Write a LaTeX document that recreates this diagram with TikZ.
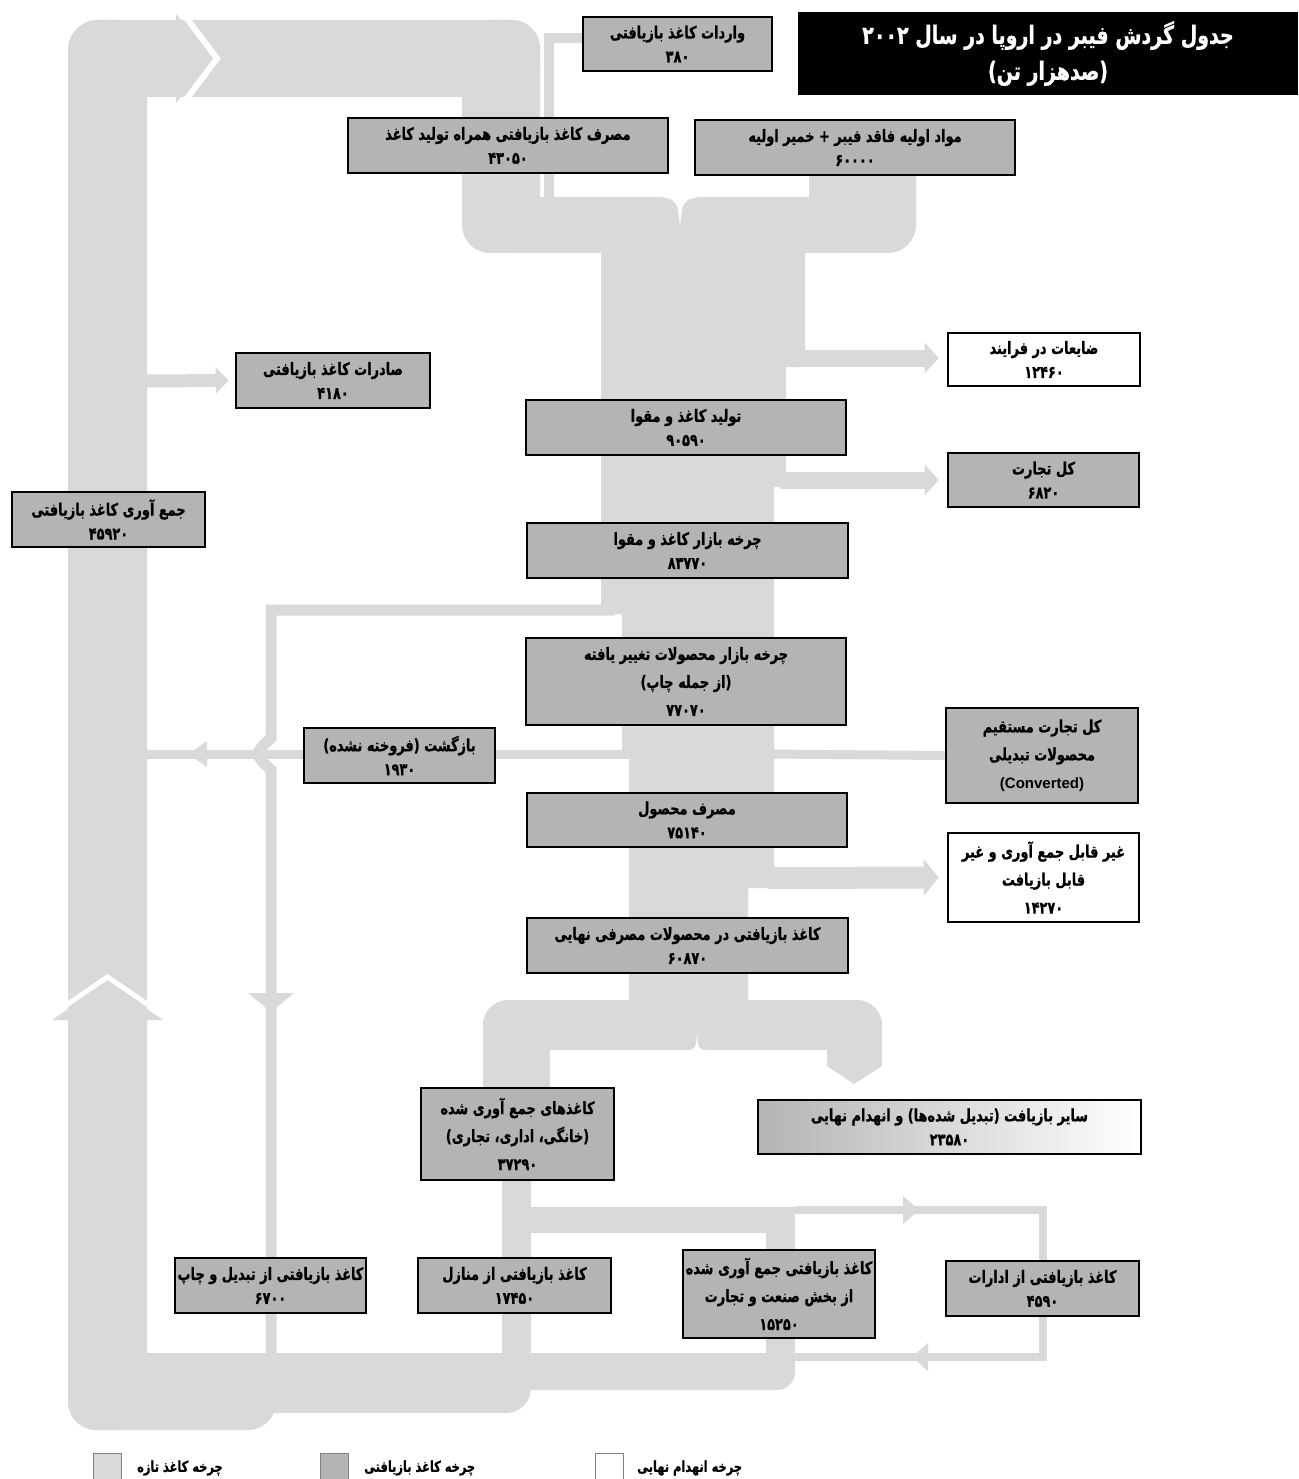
\documentclass[tikz,border=0pt]{standalone}
\usepackage{fontspec}
\usetikzlibrary{arrows.meta}
\TeXXeTstate=1
\newfontfamily\pfont[Script=Arabic,FakeStretch=0.76,BoldFeatures={FakeBold=0.8}]{DejaVu Sans}
\newfontfamily\lfont{Liberation Sans}
\newcommand{\fatxt}[1]{\beginR #1\endR}
\definecolor{flow}{RGB}{217,217,217}
\definecolor{boxg}{RGB}{180,180,180}
\pgfdeclarelayer{bg}
\pgfsetlayers{bg,main}
\tikzset{
  box/.style={draw=black, line width=2.6pt, fill=boxg, inner sep=0pt, align=center,
    font=\pfont\bfseries\fontsize{17}{24}\selectfont},
  wbox/.style={box, fill=white},
  tri/.style={font=\pfont\bfseries\fontsize{17}{28}\selectfont},
  fl/.style={fill=flow},
  fline/.style={draw=flow, line cap=butt, line join=miter},
  farrow/.style={draw=flow, line cap=butt, -{Triangle[length=14pt,width=30pt]}},
  lgbox/.style={draw=gray, line width=1pt, minimum width=28pt, minimum height=28pt, inner sep=0pt},
  lgtxt/.style={anchor=west, inner sep=0pt, font=\pfont\bfseries\fontsize{15}{17}\selectfont}
}
\begin{document}
\begin{tikzpicture}[x=1pt,y=-1pt]
\useasboundingbox (0,0) rectangle (1298,1479);

% ---------- nodes ----------
\node[fill=black, minimum width=500pt, minimum height=83pt, inner sep=0pt, text=white, align=center,
  font=\pfont\bfseries\fontsize{25}{36}\selectfont] (title) at (1048,53.5)
  {\fatxt{جدول گردش فیبر در اروپا در سال ۲۰۰۲}\\\fatxt{(صدهزار تن)}};

\node[box, minimum width=189pt, minimum height=54pt] (imp) at (677.5,44)
  {\fatxt{واردات کاغذ بازیافتی}\\۳۸۰};
\node[box, minimum width=320pt, minimum height=55pt] (cons) at (508,145.5)
  {\fatxt{مصرف کاغذ بازیافتی همراه تولید کاغذ}\\۴۳۰۵۰};
\node[box, minimum width=320pt, minimum height=55pt] (raw) at (855,147.5)
  {\fatxt{مواد اولیه فاقد فیبر + خمیر اولیه}\\۶۰۰۰۰};
\node[wbox, minimum width=192pt, minimum height=53pt] (waste) at (1044,359.5)
  {\fatxt{ضایعات در فرایند}\\۱۲۴۶۰};
\node[box, minimum width=194pt, minimum height=55pt] (exp) at (333,380.5)
  {\fatxt{صادرات کاغذ بازیافتی}\\۴۱۸۰};
\node[box, minimum width=320pt, minimum height=55pt] (prod) at (686,427.5)
  {\fatxt{تولید کاغذ و مقوا}\\۹۰۵۹۰};
\node[box, minimum width=191pt, minimum height=54pt] (trade) at (1043.5,480)
  {\fatxt{کل تجارت}\\۶۸۲۰};
\node[box, minimum width=193pt, minimum height=55pt] (coll) at (108.5,519.5)
  {\fatxt{جمع آوری کاغذ بازیافتی}\\۴۵۹۲۰};
\node[box, minimum width=321pt, minimum height=55pt] (mkt) at (687.5,550.5)
  {\fatxt{چرخه بازار کاغذ و مقوا}\\۸۳۷۷۰};
\node[box, tri, minimum width=320pt, minimum height=87pt] (conv) at (686,681.5)
  {\fatxt{چرخه بازار محصولات تغییر یافته}\\\fatxt{(از جمله چاپ)}\\۷۷۰۷۰};
\node[box, tri, minimum width=192pt, minimum height=95pt] (direct) at (1042,755.5)
  {\fatxt{کل تجارت مستقیم}\\\fatxt{محصولات تبدیلی}\\{\lfont\bfseries\fontsize{15}{28}\selectfont (Converted)}};
\node[box, minimum width=191pt, minimum height=55pt] (ret) at (399.5,755.5)
  {\fatxt{بازگشت (فروخته نشده)}\\۱۹۳۰};
\node[box, minimum width=320pt, minimum height=54pt] (use) at (687,820)
  {\fatxt{مصرف محصول}\\۷۵۱۴۰};
\node[wbox, tri, minimum width=191pt, minimum height=89pt] (nonrec) at (1043.5,877.5)
  {\fatxt{غیر قابل جمع آوری و غیر}\\\fatxt{قابل بازیافت}\\۱۴۲۷۰};
\node[box, minimum width=321pt, minimum height=55pt] (final) at (687.5,945.5)
  {\fatxt{کاغذ بازیافتی در محصولات مصرفی نهایی}\\۶۰۸۷۰};
\node[box, tri, minimum width=193pt, minimum height=92pt] (colld) at (517.5,1134)
  {\fatxt{کاغذهای جمع آوری شده}\\\fatxt{(خانگی، اداری، تجاری)}\\۳۷۲۹۰};
\node[box, left color=boxg, right color=white, minimum width=383pt, minimum height=54pt] (other) at (949.5,1127)
  {\fatxt{سایر بازیافت (تبدیل شده‌ها) و انهدام نهایی}\\۲۳۵۸۰};
\node[box, minimum width=191pt, minimum height=55pt] (print) at (270.5,1285.5)
  {\fatxt{کاغذ بازیافتی از تبدیل و چاپ}\\۶۷۰۰};
\node[box, minimum width=193pt, minimum height=55pt] (house) at (514.5,1285.5)
  {\fatxt{کاغذ بازیافتی از منازل}\\۱۷۴۵۰};
\node[box, tri, minimum width=192pt, minimum height=88pt] (ind) at (779,1294)
  {\fatxt{کاغذ بازیافتی جمع آوری شده}\\\fatxt{از بخش صنعت و تجارت}\\۱۵۲۵۰};
\node[box, minimum width=193pt, minimum height=55pt] (off) at (1042.5,1288.5)
  {\fatxt{کاغذ بازیافتی از ادارات}\\۴۵۹۰};

% legend
\node[lgbox, fill=flow, anchor=north west] (lg1) at (93,1453) {};
\node[lgtxt] (lt1) at (137,1468) {\fatxt{چرخه کاغذ تازه}};
\node[lgbox, fill=boxg, anchor=north west] (lg2) at (320,1453) {};
\node[lgtxt] (lt2) at (364,1468) {\fatxt{چرخه کاغذ بازیافتی}};
\node[lgbox, fill=white, anchor=north west] (lg3) at (595,1453) {};
\node[lgtxt] (lt3) at (637,1468) {\fatxt{چرخه انهدام نهایی}};

% ---------- background flows ----------
\begin{pgfonlayer}{bg}
% big recycling loop
\fill[fl, rounded corners=30pt] (68,20) rectangle (147,1430);
\fill[fl, rounded corners=30pt] (68,20) rectangle (540,97);
\fill[fl, rounded corners=28pt] (462,20) rectangle (540,253);
\fill[fl] (500,197) rectangle (845,253);
\fill[white] (645,196) .. controls (678,198) .. (680,229) .. controls (682,198) .. (715,196) -- cycle;
% import line
\coordinate (impout) at (583,38);
\draw[fline, line width=10pt] (impout) -- (549,38) -- (549,200);
% virgin column
\fill[fl, rounded corners=28pt] (809,128) rectangle (916,253);
% central column
\fill[fl] (601,228) -- (805,228) -- (805,367) -- (786,367) -- (786,487) -- (774,487)
  -- (774,888) -- (748,888) -- (748,1010) -- (629,1010) -- (629,758) -- (622,758)
  -- (622,614) -- (601,614) -- cycle;
% bottom split
\fill[fl, rounded corners=25pt] (483,1000) rectangle (882,1050);
\fill[fl] (483,1020) rectangle (550,1120);
\fill[fl] (827,1020) -- (882,1020) -- (882,1066) -- (854,1084) -- (827,1066) -- cycle;
\fill[white] (680,1051) .. controls (696,1050) .. (697,1033) .. controls (698,1050) .. (714,1051) -- cycle;
% households / industry branches
\fill[fl] (502,1150) rectangle (531,1370);
\fill[fl] (531,1207) rectangle (795,1233);
\fill[fl] (766,1207) rectangle (795,1370);
% offices loop
\draw[fline, line width=8pt] (795,1210) -- (1043,1210) -- (1043,1357) -- (795,1357);
\fill[fl] (919,1210) -- (903,1196) -- (903,1224) -- cycle;
\fill[fl] (912,1357) -- (928,1343) -- (928,1371) -- cycle;
% bottom band
\fill[fl, rounded corners=18pt] (68,1353) rectangle (795,1390);
\fill[fl, rounded corners=25pt] (68,1353) rectangle (531,1413);
\fill[fl, rounded corners=28pt] (68,1353) rectangle (276,1430);
% return (unsold) loop
\draw[fline, line width=11pt] (615,610) -- (271,610) -- (271,738) .. controls (254,754) .. (271,770) -- (271,1400);
\fill[fl] (248,993) -- (294,993) -- (271,1012) -- cycle;
% horizontal direct trade / return line
\draw[fline, line width=9pt] (140,754) -- (630,754);
\draw[fline, line width=9pt] (770,754) -- (direct.west);
\fill[fl] (189,754) -- (207,741) -- (207,767) -- cycle;
% up arrow on big band
\fill[fl] (52,1020) -- (107.5,982) -- (163,1020) -- cycle;
\draw[white, line width=5pt, line join=miter] (62,1008) -- (107.5,977) -- (153,1008);
% top chevron
\fill[fl] (176,14) -- (212,58.5) -- (176,103) -- cycle;
\draw[white, line width=6pt, line join=miter] (182,12) -- (217,58.5) -- (182,105);
% outflow arrows
\coordinate (c1) at (800,358);
\coordinate (c2) at (780,480);
\coordinate (c3) at (768,878);
\coordinate (c4) at (145,381);
\draw[farrow, line width=17pt] (c1) -- ([xshift=-8pt]waste.west |- c1);
\draw[farrow, line width=17pt] (c2) -- ([xshift=-8pt]trade.west);
\draw[farrow, line width=22pt, -{Triangle[length=15pt,width=36pt]}] (c3) -- ([xshift=-8pt]nonrec.west);
\draw[farrow, line width=13pt, -{Triangle[length=13pt,width=26pt]}] (c4) -- ([xshift=-6pt]exp.west);
\end{pgfonlayer}
\end{tikzpicture}
\end{document}
